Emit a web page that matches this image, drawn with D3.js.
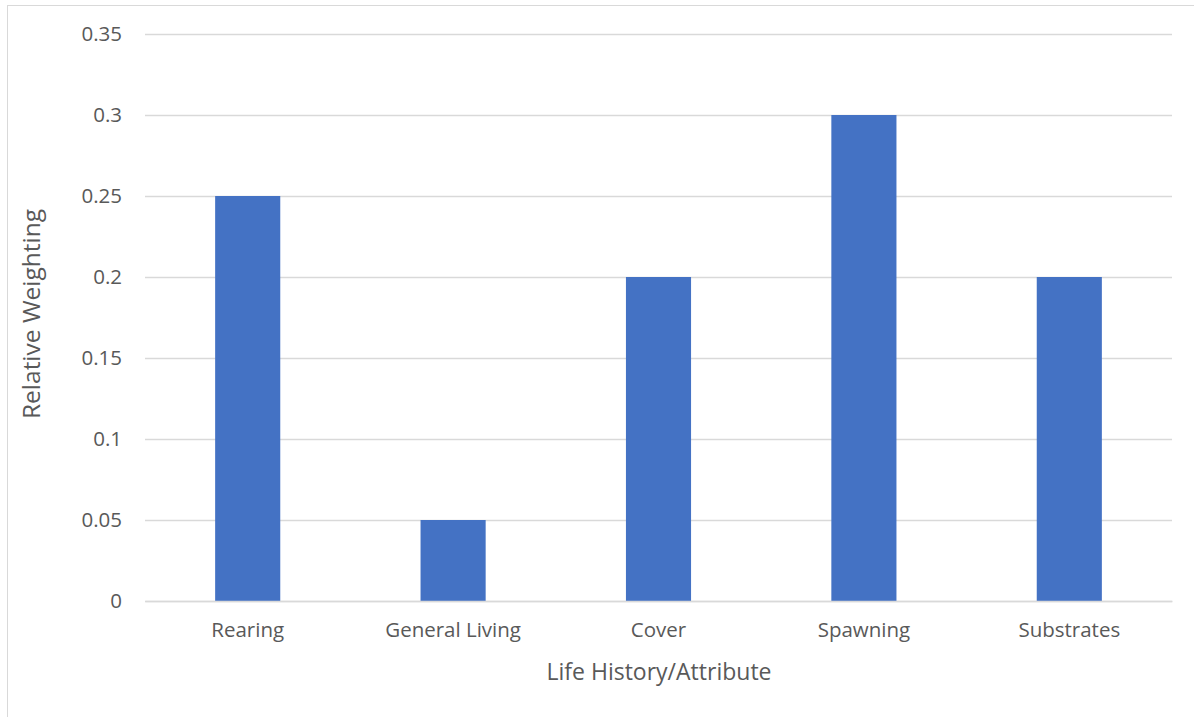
<!DOCTYPE html>
<html>
<head>
<meta charset="utf-8">
<script src="https://cdn.jsdelivr.net/npm/d3@7"></script>
<style>
  html, body { margin: 0; padding: 0; background: #fff; }
  svg { display: block; }
  text { font-family: "Open Sans", "Liberation Sans", sans-serif; fill: #595959; }
</style>
</head>
<body>
<svg id="chart" width="1194" height="717"></svg>
<script>
// Relative weighting per life-history attribute
const categories = ["Rearing", "General Living", "Cover", "Spawning", "Substrates"];
const weights = [0.25, 0.05, 0.2, 0.3, 0.2];
const yTicks = [0, 0.05, 0.1, 0.15, 0.2, 0.25, 0.3, 0.35];
const yTickLabels = ["0", "0.05", "0.1", "0.15", "0.2", "0.25", "0.3", "0.35"];

const svg = d3.select("#chart");
const W = 1194, H = 717;
const plot = { left: 145, right: 1172, top: 34, bottom: 601 };

// Outer chart frame
svg.append("rect")
  .attr("x", 7.5).attr("y", 5.5)
  .attr("width", W).attr("height", H)
  .attr("fill", "none").attr("stroke", "#d9d9d9").attr("stroke-width", 1);

const x = d3.scaleBand()
  .domain(categories)
  .range([plot.left, plot.right])
  .paddingInner(0.683).paddingOuter(0.3415);

const y = d3.scaleLinear()
  .domain([0, 0.35])
  .range([plot.bottom, plot.top]);

// Horizontal gridlines
const yAxis = d3.axisLeft(y)
  .tickValues(yTicks)
  .tickFormat((d, i) => yTickLabels[i])
  .tickSize(-(plot.right - plot.left))
  .tickPadding(23);

const gy = svg.append("g")
  .attr("transform", `translate(${plot.left},0)`)
  .call(yAxis);
gy.select(".domain").remove();
gy.selectAll(".tick line").attr("stroke", "#d9d9d9").attr("stroke-width", 1.3);
gy.selectAll(".tick text")
  .attr("font-size", 20.5)
  .style("font-family", "'Open Sans', sans-serif")
  .attr("fill", "#595959");

// Bars
svg.append("g").selectAll("rect")
  .data(categories)
  .join("rect")
  .attr("x", d => x(d))
  .attr("width", x.bandwidth())
  .attr("y", (d, i) => y(weights[i]))
  .attr("height", (d, i) => y(0) - y(weights[i]))
  .attr("fill", "#4472c4");

// Category axis
const xAxis = d3.axisBottom(x).tickSize(0).tickPadding(21);
const gx = svg.append("g")
  .attr("transform", `translate(0,${plot.bottom})`)
  .call(xAxis);
gx.select(".domain").attr("stroke", "#d9d9d9").attr("stroke-width", 1.3);
gx.selectAll(".tick text")
  .attr("font-size", 20.5)
  .style("font-family", "'Open Sans', sans-serif")
  .attr("fill", "#595959");

// Axis titles
svg.append("text")
  .attr("x", (plot.left + plot.right) / 2 + 0.5)
  .attr("y", 680)
  .attr("text-anchor", "middle")
  .attr("font-size", 23)
  .text("Life History/Attribute");

svg.append("text")
  .attr("transform", `translate(40,314) rotate(-90)`)
  .attr("text-anchor", "middle")
  .attr("font-size", 24.5)
  .text("Relative Weighting");
</script>
</body>
</html>
